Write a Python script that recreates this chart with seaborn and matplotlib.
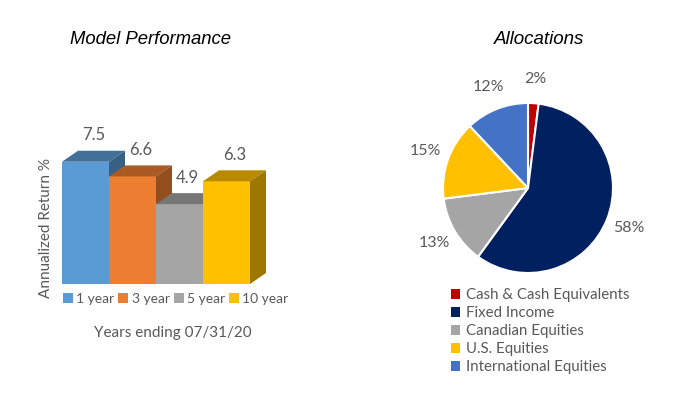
import matplotlib
matplotlib.use("Agg")
import matplotlib.pyplot as plt
import seaborn as sns
import pandas as pd
import numpy as np
from matplotlib.patches import Polygon, Patch
from matplotlib.colors import to_rgb

# ---- data ----
periods = ["1 year", "3 year", "5 year", "10 year"]
returns = [7.5, 6.6, 4.9, 6.3]
bar_colors = ["#5B9BD5", "#ED7D31", "#A5A5A5", "#FFC000"]

alloc_labels = ["Cash & Cash Equivalents", "Fixed Income", "Canadian Equities",
                "U.S. Equities", "International Equities"]
alloc_values = [2, 58, 13, 15, 12]
alloc_colors = ["#C00000", "#002060", "#A5A5A5", "#FFC000", "#4472C4"]

sns.set_theme(style="white")
plt.rcParams["font.family"] = ["Lato", "DejaVu Sans"]
GREY = "#595959"

W, H = 700, 396
fig = plt.figure(figsize=(7, 3.96), dpi=100)
fig.patch.set_facecolor("white")

# ---- bar chart ----
px_unit = 47.0       # px per category
px_val = 16.3        # px per value unit
xlim = (-0.5, 3.85)
ylim = (0, 9.6)
left_px, bottom_px = 62, 284
ax = fig.add_axes([left_px / W, (H - bottom_px) / H,
                   (xlim[1] - xlim[0]) * px_unit / W, (ylim[1] - ylim[0]) * px_val / H])
df = pd.DataFrame({"period": periods, "ret": returns})
sns.barplot(data=df, x="period", y="ret", hue="period", palette=bar_colors,
            width=1.0, ax=ax, legend=False, saturation=1)
ax.set_xlim(*xlim)
ax.set_ylim(*ylim)
ax.axis("off")

dx = 16 / px_unit
dy = 11 / px_val

def shade(c, f):
    r, g, b = to_rgb(c)
    return (r * f, g * f, b * f)

for i, (p, c, v) in enumerate(zip(ax.patches, bar_colors, returns)):
    x0 = p.get_x()
    x1 = x0 + p.get_width()
    h = p.get_height()
    z = 10 + 3 * i
    p.set_zorder(z)
    p.set_edgecolor("none")
    top = Polygon([(x0, h), (x0 + dx, h + dy), (x1 + dx, h + dy), (x1, h)],
                  closed=True, facecolor=shade(c, 0.72), edgecolor="none", zorder=z + 1)
    side = Polygon([(x1, 0), (x1 + dx, dy), (x1 + dx, h + dy), (x1, h)],
                   closed=True, facecolor=shade(c, 0.62), edgecolor="none", zorder=z + 2)
    ax.add_patch(top)
    ax.add_patch(side)
    ax.annotate(f"{v:.1f}", xy=((x0 + x1) / 2 + dx / 2, h + dy), xytext=(0, 11),
                textcoords="offset points", ha="center", va="center",
                fontsize=12, color=GREY, zorder=50)

fig.text(150 / W, 1 - 40 / H, "Model Performance", ha="center", va="center",
         fontsize=13.3, style="italic", family="Liberation Sans", color="black")
fig.text(46 / W, 1 - 228 / H, "Annualized Return %", rotation=90, ha="center",
         va="center", fontsize=11, color=GREY)
fig.text(173 / W, 1 - 333 / H, "Years ending 07/31/20", ha="center", va="center",
         fontsize=11, color=GREY)

bar_handles = [Patch(facecolor=c, edgecolor="none") for c in bar_colors]
fig.legend(bar_handles, periods, loc="center left", bbox_to_anchor=(56 / W, 1 - 299 / H),
           ncol=4, frameon=False, fontsize=10, handlelength=0.7, handleheight=0.7,
           handletextpad=0.25, columnspacing=0.3, labelcolor=GREY, borderpad=0)

# ---- pie chart ----
R = 85
cx, cy = 528, 188
span = 3.0
axp = fig.add_axes([(cx - R * span / 2) / W, (H - cy - R * span / 2) / H,
                    R * span / W, R * span / H])
wedges, texts, autotexts = axp.pie(alloc_values, colors=alloc_colors, startangle=90,
                                   counterclock=False, autopct="%d%%", pctdistance=1.28,
                                   wedgeprops=dict(edgecolor="white", linewidth=1.5),
                                   textprops=dict(color=GREY, fontsize=11.5))
axp.set_xlim(-span / 2, span / 2)
axp.set_ylim(-span / 2, span / 2)
axp.set_aspect("equal")
axp.axis("off")

fig.text(539 / W, 1 - 40 / H, "Allocations", ha="center", va="center",
         fontsize=13.5, style="italic", family="Liberation Sans", color="black")

pie_handles = [Patch(facecolor=c, edgecolor="none") for c in alloc_colors]
fig.legend(pie_handles, alloc_labels, loc="upper left", bbox_to_anchor=(444 / W, 1 - 281 / H),
           ncol=1, frameon=False, fontsize=10.8, handlelength=0.6, handleheight=0.6,
           handletextpad=0.4, labelspacing=0.26, labelcolor=GREY, borderpad=0)

fig.savefig("out.png", dpi=100, facecolor="white")
